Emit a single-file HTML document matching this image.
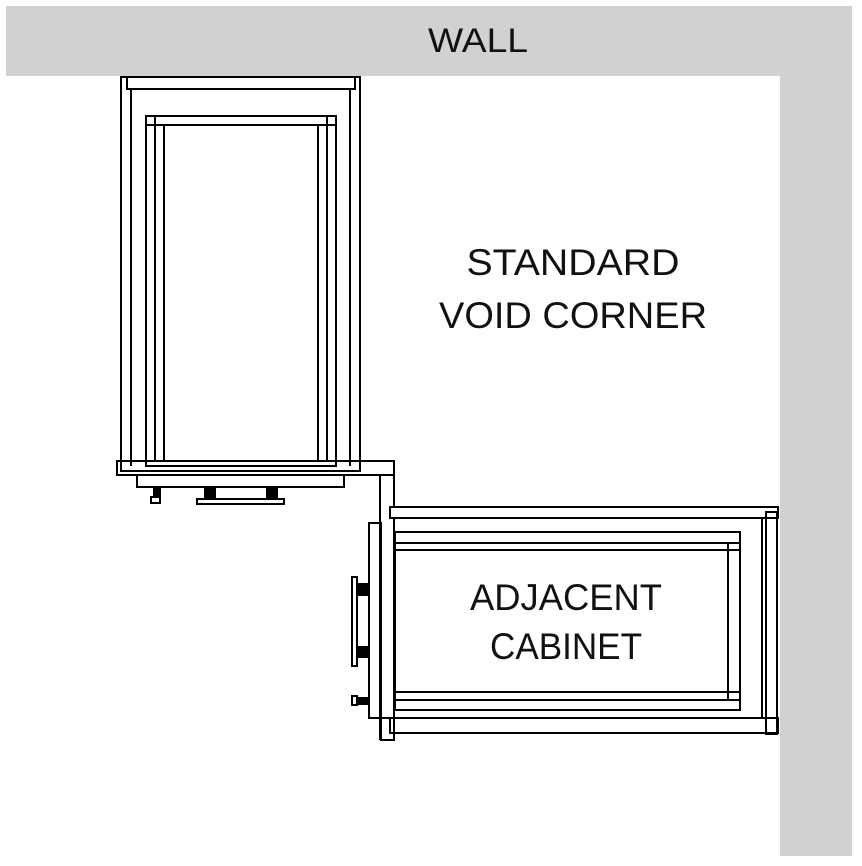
<!DOCTYPE html>
<html><head><style>html,body{margin:0;padding:0;background:#fff}svg{display:block}</style></head><body>
<svg width="862" height="866" viewBox="0 0 862 866" xmlns="http://www.w3.org/2000/svg">
<rect x="0" y="0" width="862" height="866" fill="#fff"/>
<rect x="6" y="6" width="846" height="70" fill="#d0d1d3"/>
<rect x="780" y="6" width="72" height="850" fill="#d0d1d3"/>
<text x="478" y="52" font-family="Liberation Sans, sans-serif" font-size="34" text-anchor="middle" textLength="100" lengthAdjust="spacingAndGlyphs" fill="#111">WALL</text>
<text x="573" y="275" font-family="Liberation Sans, sans-serif" font-size="37" text-anchor="middle" textLength="213" lengthAdjust="spacingAndGlyphs" fill="#111">STANDARD</text>
<text x="573" y="328" font-family="Liberation Sans, sans-serif" font-size="37" text-anchor="middle" textLength="268" lengthAdjust="spacingAndGlyphs" fill="#111">VOID CORNER</text>
<text x="566" y="610" font-family="Liberation Sans, sans-serif" font-size="37" text-anchor="middle" textLength="192" lengthAdjust="spacingAndGlyphs" fill="#111">ADJACENT</text>
<text x="566" y="659" font-family="Liberation Sans, sans-serif" font-size="37" text-anchor="middle" textLength="152" lengthAdjust="spacingAndGlyphs" fill="#111">CABINET</text>
<g fill="none" stroke="#000" stroke-width="2">
<!-- top cabinet -->
<rect x="121" y="77" width="239" height="394"/>
<rect x="127" y="77" width="228" height="12"/>
<line x1="131" y1="89" x2="131" y2="466"/>
<line x1="350" y1="89" x2="350" y2="466"/>
<rect x="146" y="116" width="190" height="350"/>
<line x1="155" y1="116" x2="155" y2="462"/>
<line x1="164" y1="125" x2="164" y2="462"/>
<line x1="318" y1="125" x2="318" y2="462"/>
<line x1="327" y1="116" x2="327" y2="462"/>
<line x1="146" y1="125" x2="336" y2="125"/>
<rect x="117" y="461" width="277" height="14"/>
<rect x="137" y="475" width="207" height="12"/>
<rect x="151" y="497" width="9" height="6"/>
<rect x="197" y="499" width="87" height="5"/>
<line x1="380" y1="475" x2="380" y2="740"/>
<line x1="394" y1="461" x2="394" y2="507"/>
<!-- adjacent cabinet -->
<rect x="369" y="523" width="12" height="195"/>
<rect x="381" y="718" width="13" height="22"/>
<rect x="390" y="507" width="388" height="11"/>
<line x1="394" y1="518" x2="394" y2="718"/>
<rect x="390" y="718" width="388" height="15"/>
<rect x="766" y="512" width="11" height="222"/>
<line x1="762" y1="518" x2="762" y2="718"/>
<rect x="395" y="532" width="345" height="178"/>
<line x1="395" y1="543" x2="740" y2="543"/>
<line x1="395" y1="550" x2="740" y2="550"/>
<line x1="395" y1="692" x2="740" y2="692"/>
<line x1="395" y1="700" x2="740" y2="700"/>
<line x1="728" y1="543" x2="728" y2="700"/>
<rect x="352" y="577" width="5" height="89"/>
<rect x="352" y="696" width="5" height="9"/>
</g>
<g fill="#000">
<rect x="153" y="487" width="8" height="11"/>
<rect x="204" y="486" width="12" height="13"/>
<rect x="266" y="486" width="12" height="13"/>
<rect x="357" y="583" width="12" height="13"/>
<rect x="357" y="646" width="12" height="12"/>
<rect x="357" y="697" width="12" height="8"/>
</g>
</svg>
</body></html>
